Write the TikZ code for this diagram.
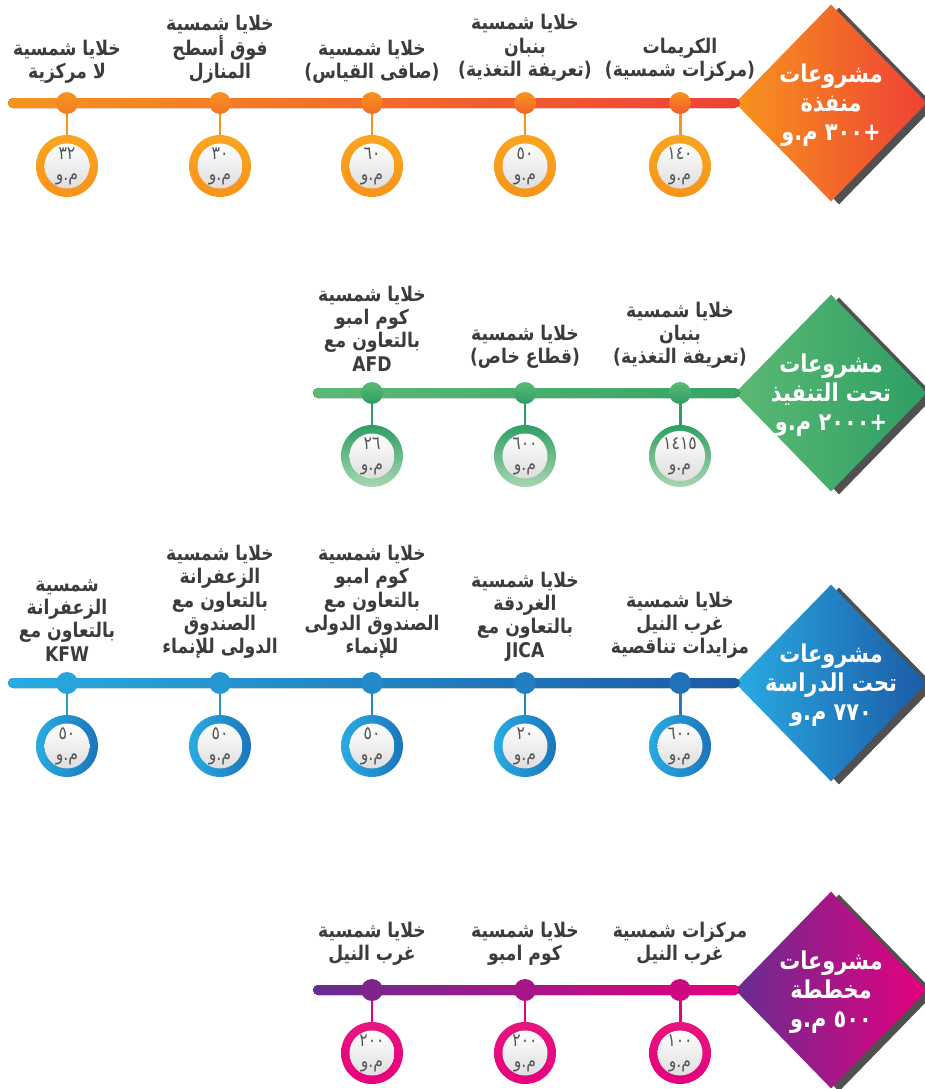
\documentclass[tikz,border=0pt]{standalone}
\usepackage{fontspec}
\newfontfamily\arabicfont[Script=Arabic, FakeStretch=0.85]{DejaVu Sans}
\TeXXeTstate=1
\usetikzlibrary{positioning, shapes.geometric}
\newcommand{\ar}[1]{\beginR #1\endR}
\newcommand{\nm}[1]{\beginL #1\endL}
\definecolor{txt}{HTML}{3C3C3C}
\definecolor{valtxt}{HTML}{555555}
\definecolor{shd}{HTML}{505050}
\definecolor{orgA}{HTML}{F7941D}
\definecolor{orgB}{HTML}{EF4136}
\definecolor{orgC}{HTML}{F9A51E}
\definecolor{grnA}{HTML}{5BB974}
\definecolor{grnB}{HTML}{2E9E64}
\definecolor{grnC}{HTML}{A9D7B2}
\definecolor{bluA}{HTML}{29ABE2}
\definecolor{bluB}{HTML}{1C5BA6}
\definecolor{bluC}{HTML}{1C75BC}
\definecolor{magA}{HTML}{662D91}
\definecolor{magB}{HTML}{E6007E}
\definecolor{magC}{HTML}{E8157F}

\begin{document}
\begin{tikzpicture}[x=0.02cm, y=-0.02cm, node distance=1.26cm,
    lbl/.style={align=center, text=txt, inner sep=0pt, font=\arabicfont\bfseries\fontsize{11.5}{13.3}\selectfont},
    dot/.style={circle, minimum size=0.44cm, inner sep=0pt},
    ring/.style={circle, minimum size=1.24cm, inner sep=0pt},
    val/.style={circle, minimum size=0.9cm, inner sep=0pt, top color=white, bottom color=black!13, align=center, text=valtxt, font=\arabicfont\fontsize{10.5}{12}\selectfont},
    sign/.style={diamond, minimum width=3.84cm, minimum height=3.94cm, inner sep=0pt},
    signtxt/.style={align=center, text=white, font=\arabicfont\bfseries\fontsize{14}{16.5}\selectfont},
    stem/.style={line width=1.7pt}]
  \useasboundingbox (0,0) rectangle (925,1089);

  % row 1
  \node[sign, fill=shd] (dsa) at (839,106) {};
  \node[sign, left color=orgA, right color=orgB] (da) at (831,103) {};
  \coordinate (a0) at (8,98);
  \fill[left color=orgA, right color=orgB, rounded corners=0.1cm] (a0) rectangle ([shift={(0.1cm,-0.1cm)}]da.west);
  \node[signtxt] (ta) at ([yshift=-0.05cm]da) {\ar{مشروعات}\\\ar{منفذة}\\\ar{+\nm{٣٠٠} م.و}};
  \node[dot, top color=orgA, bottom color=orgA!70!orgB] (a1) at (67,103) {};
  \node[dot, top color=orgA, bottom color=orgA!60!orgB] (a2) at (220,103) {};
  \node[dot, top color=orgA, bottom color=orgA!50!orgB] (a3) at (372,103) {};
  \node[dot, top color=orgA, bottom color=orgA!40!orgB] (a4) at (525,103) {};
  \node[dot, top color=orgA, bottom color=orgA!30!orgB] (a5) at (680,103) {};
  \node[ring, top color=orgC, bottom color=orgA, below of=a1] (ra1) {};
  \node[ring, top color=orgC, bottom color=orgA, below of=a2] (ra2) {};
  \node[ring, top color=orgC, bottom color=orgA, below of=a3] (ra3) {};
  \node[ring, top color=orgC, bottom color=orgA, below of=a4] (ra4) {};
  \node[ring, top color=orgC, bottom color=orgA, below of=a5] (ra5) {};
  \node[val] (va1) at (ra1) {\nm{٣٢}\\\ar{م.و}};
  \node[val] (va2) at (ra2) {\nm{٣٠}\\\ar{م.و}};
  \node[val] (va3) at (ra3) {\nm{٦٠}\\\ar{م.و}};
  \node[val] (va4) at (ra4) {\nm{٥٠}\\\ar{م.و}};
  \node[val] (va5) at (ra5) {\nm{١٤٠}\\\ar{م.و}};
  \draw[stem, orgA] (a1) -- (ra1);
  \draw[stem, orgA] (a2) -- (ra2);
  \draw[stem, orgA] (a3) -- (ra3);
  \draw[stem, orgA] (a4) -- (ra4);
  \draw[stem, orgA] (a5) -- (ra5);
  \node[lbl, above=0.15cm of a1] (la1) {\ar{خلايا شمسية}\\\ar{لا مركزية}};
  \node[lbl, above=0.15cm of a2] (la2) {\ar{خلايا شمسية}\\\ar{فوق أسطح}\\\ar{المنازل}};
  \node[lbl, above=0.15cm of a3] (la3) {\ar{خلايا شمسية}\\\ar{(صافى القياس)}};
  \node[lbl, above=0.2cm of a4] (la4) {\ar{خلايا شمسية}\\\ar{بنبان}\\\ar{(تعريفة التغذية)}};
  \node[lbl, above=0.2cm of a5] (la5) {\ar{الكريمات}\\\ar{(مركزات شمسية)}};

  % row 2
  \node[sign, fill=shd] (dsb) at (839,396) {};
  \node[sign, left color=grnA, right color=grnB] (db) at (831,393) {};
  \coordinate (b0) at (313,388);
  \fill[left color=grnA, right color=grnB!80!grnA, rounded corners=0.1cm] (b0) rectangle ([shift={(0.1cm,-0.1cm)}]db.west);
  \node[signtxt] (tb) at ([yshift=-0.05cm]db) {\ar{مشروعات}\\\ar{تحت التنفيذ}\\\ar{+\nm{٢٠٠٠} م.و}};
  \node[dot, top color=grnA, bottom color=grnB] (b1) at (372,393) {};
  \node[dot, top color=grnA, bottom color=grnB] (b2) at (525,393) {};
  \node[dot, top color=grnA, bottom color=grnB] (b3) at (680,393) {};
  \node[ring, top color=grnB, bottom color=grnC, below of=b1] (rb1) {};
  \node[ring, top color=grnB, bottom color=grnC, below of=b2] (rb2) {};
  \node[ring, top color=grnB, bottom color=grnC, below of=b3] (rb3) {};
  \node[val] (vb1) at (rb1) {\nm{٢٦}\\\ar{م.و}};
  \node[val] (vb2) at (rb2) {\nm{٦٠٠}\\\ar{م.و}};
  \node[val] (vb3) at (rb3) {\nm{١٤١٥}\\\ar{م.و}};
  \draw[stem, grnB] (b1) -- (rb1);
  \draw[stem, grnB] (b2) -- (rb2);
  \draw[stem, grnB] (b3) -- (rb3);
  \node[lbl, above=0.2cm of b1] (lb1) {\ar{خلايا شمسية}\\\ar{كوم امبو}\\\ar{بالتعاون مع}\\AFD};
  \node[lbl, above=0.25cm of b2] (lb2) {\ar{خلايا شمسية}\\\ar{(قطاع خاص)}};
  \node[lbl, above=0.25cm of b3] (lb3) {\ar{خلايا شمسية}\\\ar{بنبان}\\\ar{(تعريفة التغذية)}};

  % row 3
  \node[sign, fill=shd] (dsc) at (839,686) {};
  \node[sign, left color=bluA, right color=bluB] (dc) at (831,683) {};
  \coordinate (c0) at (8,678);
  \fill[left color=bluA, right color=bluB, rounded corners=0.1cm] (c0) rectangle ([shift={(0.1cm,-0.1cm)}]dc.west);
  \node[signtxt] (tc) at ([yshift=-0.05cm]dc) {\ar{مشروعات}\\\ar{تحت الدراسة}\\\ar{\nm{٧٧٠} م.و}};
  \node[dot, fill=bluA!90!bluB] (c1) at (67,683) {};
  \node[dot, fill=bluA!75!bluB] (c2) at (220,683) {};
  \node[dot, fill=bluA!60!bluB] (c3) at (372,683) {};
  \node[dot, fill=bluA!45!bluB] (c4) at (525,683) {};
  \node[dot, fill=bluA!30!bluB] (c5) at (680,683) {};
  \node[ring, left color=bluA, right color=bluC, below of=c1] (rc1) {};
  \node[ring, left color=bluA, right color=bluC, below of=c2] (rc2) {};
  \node[ring, left color=bluA, right color=bluC, below of=c3] (rc3) {};
  \node[ring, left color=bluA, right color=bluC, below of=c4] (rc4) {};
  \node[ring, left color=bluA, right color=bluC, below of=c5] (rc5) {};
  \node[val] (vc1) at (rc1) {\nm{٥٠}\\\ar{م.و}};
  \node[val] (vc2) at (rc2) {\nm{٥٠}\\\ar{م.و}};
  \node[val] (vc3) at (rc3) {\nm{٥٠}\\\ar{م.و}};
  \node[val] (vc4) at (rc4) {\nm{٢٠}\\\ar{م.و}};
  \node[val] (vc5) at (rc5) {\nm{٦٠٠}\\\ar{م.و}};
  \draw[stem, bluA!80!bluB] (c1) -- (rc1);
  \draw[stem, bluA!70!bluB] (c2) -- (rc2);
  \draw[stem, bluA!60!bluB] (c3) -- (rc3);
  \draw[stem, bluA!50!bluB] (c4) -- (rc4);
  \draw[stem, bluA!40!bluB] (c5) -- (rc5);
  \node[lbl, above=0.2cm of c1] (lc1) {\ar{شمسية}\\\ar{الزعفرانة}\\\ar{بالتعاون مع}\\KFW};
  \node[lbl, above=0.25cm of c2] (lc2) {\ar{خلايا شمسية}\\\ar{الزعفرانة}\\\ar{بالتعاون مع}\\\ar{الصندوق}\\\ar{الدولى للإنماء}};
  \node[lbl, above=0.25cm of c3] (lc3) {\ar{خلايا شمسية}\\\ar{كوم امبو}\\\ar{بالتعاون مع}\\\ar{الصندوق الدولى}\\\ar{للإنماء}};
  \node[lbl, above=0.2cm of c4] (lc4) {\ar{خلايا شمسية}\\\ar{الغردقة}\\\ar{بالتعاون مع}\\JICA};
  \node[lbl, above=0.25cm of c5] (lc5) {\ar{خلايا شمسية}\\\ar{غرب النيل}\\\ar{مزايدات تناقصية}};

  % row 4
  \node[sign, fill=shd] (dsd) at (839,993) {};
  \node[sign, left color=magA, right color=magB] (dd) at (831,990) {};
  \coordinate (d0) at (313,985);
  \fill[left color=magA, right color=magB, rounded corners=0.1cm] (d0) rectangle ([shift={(0.1cm,-0.1cm)}]dd.west);
  \node[signtxt] (td) at ([yshift=-0.05cm]dd) {\ar{مشروعات}\\\ar{مخططة}\\\ar{\nm{٥٠٠} م.و}};
  \node[dot, fill=magA!80!magB] (d1) at (372,990) {};
  \node[dot, fill=magA!50!magB] (d2) at (525,990) {};
  \node[dot, fill=magA!20!magB] (d3) at (680,990) {};
  \node[ring, top color=magC, bottom color=magB, below of=d1] (rd1) {};
  \node[ring, top color=magC, bottom color=magB, below of=d2] (rd2) {};
  \node[ring, top color=magC, bottom color=magB, below of=d3] (rd3) {};
  \node[val] (vd1) at (rd1) {\nm{٢٠٠}\\\ar{م.و}};
  \node[val] (vd2) at (rd2) {\nm{٢٠٠}\\\ar{م.و}};
  \node[val] (vd3) at (rd3) {\nm{١٠٠}\\\ar{م.و}};
  \draw[stem, magB] (d1) -- (rd1);
  \draw[stem, magB] (d2) -- (rd2);
  \draw[stem, magB] (d3) -- (rd3);
  \node[lbl, above=0.25cm of d1] (ld1) {\ar{خلايا شمسية}\\\ar{غرب النيل}};
  \node[lbl, above=0.25cm of d2] (ld2) {\ar{خلايا شمسية}\\\ar{كوم امبو}};
  \node[lbl, above=0.25cm of d3] (ld3) {\ar{مركزات شمسية}\\\ar{غرب النيل}};
\end{tikzpicture}
\end{document}
